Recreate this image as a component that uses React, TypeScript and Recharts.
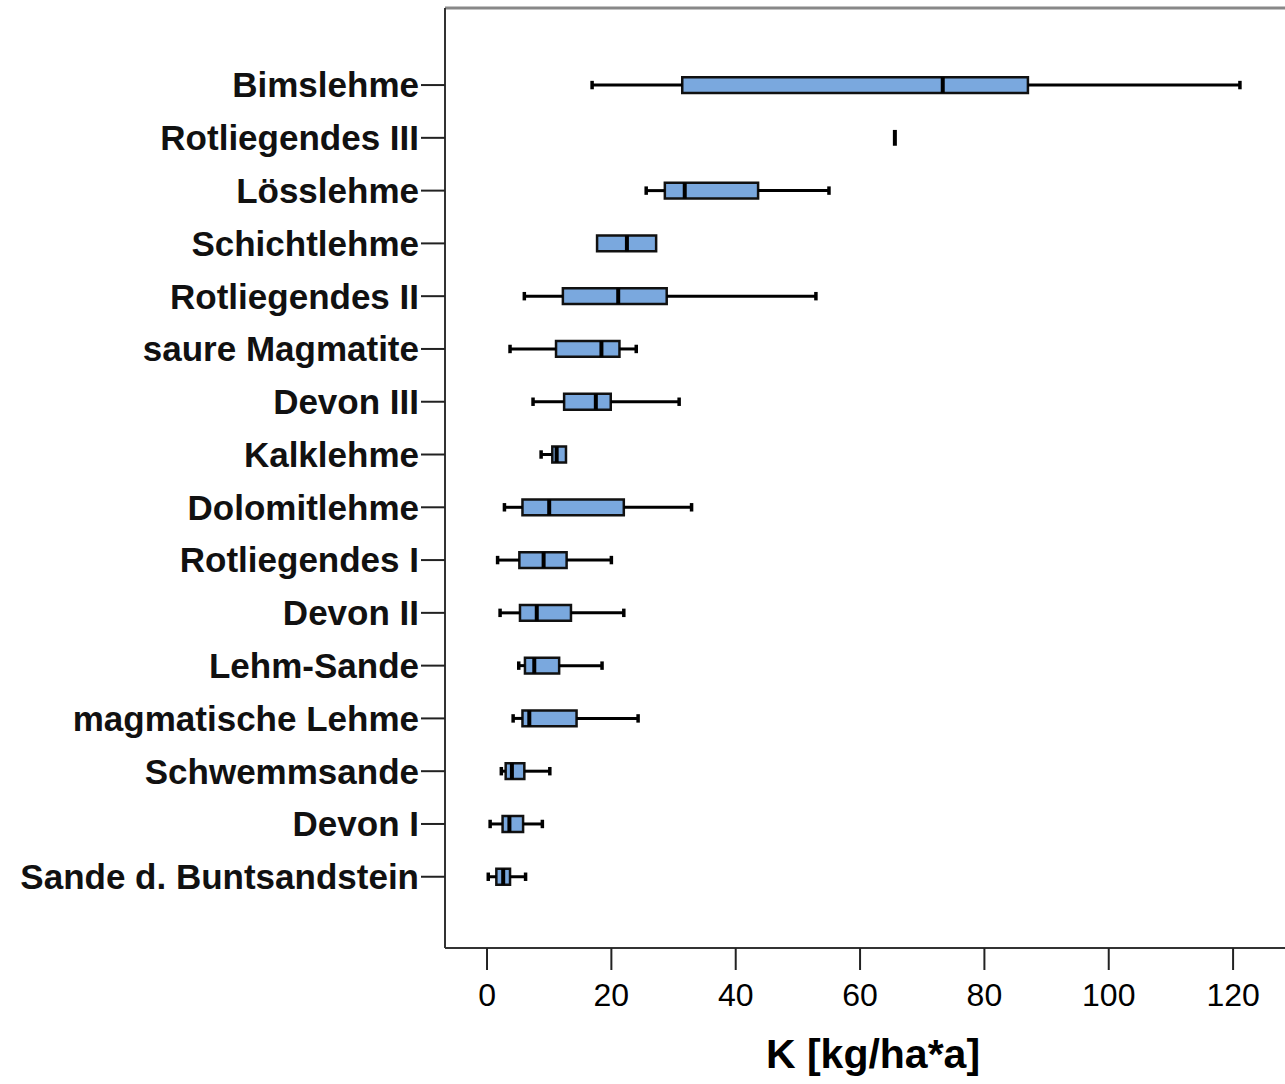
import { ComposedChart, XAxis, YAxis, ReferenceArea, ReferenceLine, Scatter } from 'recharts';

const categories = [
  'Bimslehme',
  'Rotliegendes III',
  'Lösslehme',
  'Schichtlehme',
  'Rotliegendes II',
  'saure Magmatite',
  'Devon III',
  'Kalklehme',
  'Dolomitlehme',
  'Rotliegendes I',
  'Devon II',
  'Lehm-Sande',
  'magmatische Lehme',
  'Schwemmsande',
  'Devon I',
  'Sande d. Buntsandstein',
];

const mins = [16.9, 65.6, 25.6, 17.7, 6.0, 3.7, 7.4, 8.7, 2.8, 1.7, 2.1, 5.1, 4.2, 2.3, 0.5, 0.2];
const q1s = [31.4, 65.6, 28.6, 17.7, 12.2, 11.1, 12.4, 10.5, 5.7, 5.2, 5.3, 6.1, 5.7, 3.0, 2.5, 1.5];
const medians = [73.3, 65.6, 31.8, 22.5, 21.1, 18.4, 17.5, 11.2, 10.0, 9.1, 8.0, 7.6, 6.8, 4.0, 3.6, 2.6];
const q3s = [87.0, 65.6, 43.6, 27.2, 28.9, 21.3, 19.9, 12.7, 22.0, 12.8, 13.5, 11.6, 14.4, 6.0, 5.8, 3.7];
const maxs = [121.1, 65.6, 55.0, 27.2, 52.9, 24.0, 30.9, 12.7, 32.9, 20.0, 22.0, 18.5, 24.3, 10.1, 8.9, 6.2];

const xTicks = [0, 20, 40, 60, 80, 100, 120];

const X_DOMAIN: [number, number] = [-6.76, 128.35];
const Y_DOMAIN: [number, number] = [-1.46, 16.35];
const BOX_HALF = 0.15;
const CAP_HALF = 0.08;
const BOX_FILL = '#7aa8de';
const FONT = '"Liberation Sans", Arial, sans-serif';

const rows = categories.map((name, i) => ({ name, x: medians[i], y: i }));

export default function App() {
  return (
    <div style={{ position: 'absolute', left: 0, top: 0, background: '#fff' }}>
      <ComposedChart
        width={1285}
        height={1084}
        layout="vertical"
        data={rows}
        margin={{ top: 8, right: 0, bottom: 0, left: 0 }}
      >
        <XAxis
          type="number"
          dataKey="x"
          domain={X_DOMAIN}
          allowDataOverflow
          ticks={xTicks}
          interval={0}
          height={136}
          tickSize={22}
          tickMargin={13}
          axisLine={{ stroke: '#333', strokeWidth: 2 }}
          tickLine={{ stroke: '#222', strokeWidth: 2 }}
          tick={{ fontSize: 32, fill: '#000', fontFamily: FONT }}
          label={{
            value: 'K [kg/ha*a]',
            position: 'insideBottom',
            offset: 16,
            dx: 8,
            style: { fontSize: 41, fontWeight: 'bold', fill: '#000', fontFamily: FONT },
          }}
        />
        <YAxis
          type="number"
          dataKey="y"
          domain={Y_DOMAIN}
          allowDataOverflow
          ticks={categories.map((_, i) => i)}
          interval={0}
          tickFormatter={(v: number) => categories[v] ?? ''}
          width={445}
          tickSize={24}
          tickMargin={2}
          axisLine={{ stroke: '#333', strokeWidth: 2 }}
          tickLine={{ stroke: '#222', strokeWidth: 2 }}
          tick={{ fontSize: 35, fontWeight: 'bold', fill: '#111', fontFamily: FONT }}
        />

        {/* top frame */}
        <ReferenceLine y={Y_DOMAIN[0]} stroke="#888" strokeWidth={3} />

        {categories.map((name, i) => (
          <ReferenceLine
            key={`wl-${name}`}
            segment={[{ x: mins[i], y: i }, { x: q1s[i], y: i }]}
            stroke="#000"
            strokeWidth={3}
          />
        ))}
        {categories.map((name, i) => (
          <ReferenceLine
            key={`wr-${name}`}
            segment={[{ x: q3s[i], y: i }, { x: maxs[i], y: i }]}
            stroke="#000"
            strokeWidth={3}
          />
        ))}
        {categories.map((name, i) =>
          mins[i] < q1s[i] ? (
            <ReferenceLine
              key={`cl-${name}`}
              segment={[{ x: mins[i], y: i - CAP_HALF }, { x: mins[i], y: i + CAP_HALF }]}
              stroke="#000"
              strokeWidth={3.5}
            />
          ) : null
        )}
        {categories.map((name, i) =>
          maxs[i] > q3s[i] ? (
            <ReferenceLine
              key={`cr-${name}`}
              segment={[{ x: maxs[i], y: i - CAP_HALF }, { x: maxs[i], y: i + CAP_HALF }]}
              stroke="#000"
              strokeWidth={3.5}
            />
          ) : null
        )}
        {categories.map((name, i) =>
          q3s[i] > q1s[i] ? (
            <ReferenceArea
              key={`box-${name}`}
              x1={q1s[i]}
              x2={q3s[i]}
              y1={i - BOX_HALF}
              y2={i + BOX_HALF}
              fill={BOX_FILL}
              fillOpacity={1}
              stroke="#111"
              strokeWidth={2.5}
            />
          ) : null
        )}
        {categories.map((name, i) => (
          <ReferenceLine
            key={`med-${name}`}
            segment={[{ x: medians[i], y: i - BOX_HALF }, { x: medians[i], y: i + BOX_HALF }]}
            stroke="#000"
            strokeWidth={4}
          />
        ))}

        <Scatter dataKey="x" isAnimationActive={false} shape={() => <g />} />
      </ComposedChart>
    </div>
  );
}
